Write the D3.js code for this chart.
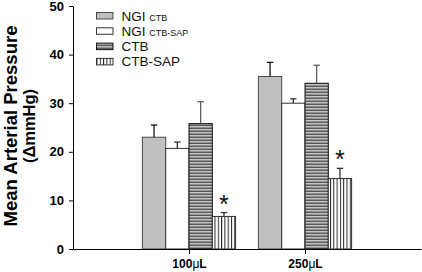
<!DOCTYPE html>
<html lang="en">
<head>
<meta charset="UTF-8">
<title>Mean Arterial Pressure</title>
<style>
  body { margin: 0; background: #fff; }
  svg { display: block; font-family: "Liberation Sans", Arial, sans-serif; }
</style>
</head>
<body>
<script src="https://cdn.jsdelivr.net/npm/d3@7"></script>
<script>
    const width = 422, height = 272;
    const margin = {top: 6, right: 1, bottom: 23, left: 73};

    const doses = ["100", "250"];
    const series = ["NGI CTB", "NGI CTB-SAP", "CTB", "CTB-SAP"];
    const means = [
        [23.0, 20.7, 25.8, 6.7],
        [35.5, 30.0, 34.1, 14.5]
    ];
    const errors = [
        [2.5, 1.3, 4.5, 0.8],
        [2.9, 0.9, 3.7, 2.1]
    ];
    const significant = [
        [false, false, false, true],
        [false, false, false, true]
    ];
    const yTicks = [0, 10, 20, 30, 40, 50];

    const svg = d3.select("body").append("svg")
        .attr("width", width)
        .attr("height", height);

    const defs = svg.append("defs");
    // horizontal stripes for CTB
    const hp = defs.append("pattern").attr("id", "hstripe")
        .attr("patternUnits", "userSpaceOnUse").attr("width", 4).attr("height", 3);
    hp.append("rect").attr("width", 4).attr("height", 3).attr("fill", "#c4c4c4");
    hp.append("rect").attr("y", 1.5).attr("width", 4).attr("height", 1.5).attr("fill", "#5a5a5a");
    // vertical stripes for CTB-SAP
    const vp = defs.append("pattern").attr("id", "vstripe")
        .attr("patternUnits", "userSpaceOnUse").attr("width", 3.3).attr("height", 4);
    vp.append("rect").attr("width", 3.3).attr("height", 4).attr("fill", "#fff");
    vp.append("rect").attr("x", 0).attr("width", 1).attr("height", 4).attr("fill", "#222");

    const fills = ["#c0c0c0", "#ffffff", "url(#hstripe)", "url(#vstripe)"];
    const strokes = ["#4a4a4a", "#333", "#111", "#333"];
    const errColor = ["#111", "#333", "#606060", "#333"];

    const x = d3.scaleLinear().domain([0, 3]).range([margin.left, width - margin.right]);
    const barW = 23.3;
    const y = d3.scaleLinear().domain([0, 50]).range([height - margin.bottom, margin.top]);

    const data = [];
    doses.forEach((d, i) => series.forEach((s, j) => data.push({
        dose: i, k: j, v: means[i][j], e: errors[i][j], sig: significant[i][j]
    })));
    const bx = d => x(d.dose + 1) + (d.k - 2) * barW;

    svg.append("g").selectAll("rect").data(data).join("rect")
        .attr("x", bx)
        .attr("y", d => y(d.v))
        .attr("width", barW)
        .attr("height", d => y(0) - y(d.v))
        .attr("fill", d => fills[d.k])
        .attr("stroke", d => strokes[d.k])
        .attr("stroke-width", 1);

    const eb = svg.append("g").selectAll("g").data(data).join("g")
        .attr("stroke", d => errColor[d.k]).attr("stroke-width", 1.3);
    eb.append("line")
        .attr("x1", d => bx(d) + barW / 2).attr("x2", d => bx(d) + barW / 2)
        .attr("y1", d => y(d.v)).attr("y2", d => y(d.v + d.e));
    eb.append("line")
        .attr("x1", d => bx(d) + barW / 2 - 3.2).attr("x2", d => bx(d) + barW / 2 + 3.2)
        .attr("y1", d => y(d.v + d.e)).attr("y2", d => y(d.v + d.e));

    svg.append("g").selectAll("text").data(data.filter(d => d.sig)).join("text")
        .attr("x", d => bx(d) + barW / 2)
        .attr("y", d => y(d.v + d.e) + 0)
        .attr("text-anchor", "middle")
        .attr("font-size", 25)
        .attr("fill", "#111")
        .text("*");

    // y axis
    svg.append("g")
        .attr("transform", `translate(${margin.left},0)`)
        .call(d3.axisLeft(y).tickValues(yTicks).tickSize(4).tickSizeOuter(0).tickPadding(5))
        .call(g => g.select(".domain").attr("stroke", "#000"))
        .call(g => g.selectAll("text").attr("font-size", 13).attr("font-weight", "bold")
            .attr("font-family", "Liberation Sans, Arial, sans-serif").attr("fill", "#000"));

    // x axis
    svg.append("g")
        .attr("transform", `translate(0,${y(0)})`)
        .call(d3.axisBottom(x).tickValues([1, 2]).tickSize(5).tickSizeOuter(0).tickFormat(""))
        .call(g => g.select(".domain").attr("stroke", "#000"))
        .call(g => g.selectAll(".tick").each(function (d) {
            const t = d3.select(this).append("text")
                .attr("y", 19).attr("fill", "#000").attr("text-anchor", "middle")
                .attr("font-size", 12).attr("font-weight", "bold")
                .attr("font-family", "Liberation Sans, Arial, sans-serif");
            t.append("tspan").text(doses[d - 1]);
            t.append("tspan").attr("font-weight", "normal").text("\u03bc");
            t.append("tspan").text("L");
        }));

    // y title
    const yt = svg.append("g").attr("transform", "translate(0,126) rotate(-90)")
        .attr("text-anchor", "middle").attr("font-weight", "bold").attr("fill", "#000");
    yt.append("text").attr("y", 16.5).attr("font-size", 18.5).text("Mean Arterial Pressure");
    yt.append("text").attr("y", 35).attr("font-size", 16.5).text("(\u0394mmHg)");

    // legend
    const leg = svg.append("g").selectAll("g").data(series).join("g")
        .attr("transform", (d, i) => `translate(96.5,${12.5 + i * 15.3})`);
    leg.append("rect").attr("width", 16.5).attr("height", 6.5)
        .attr("fill", (d, i) => fills[i]).attr("stroke", (d, i) => strokes[i]);
    leg.append("text").attr("x", 25).attr("y", 8).attr("font-size", 13.5).attr("fill", "#111")
        .each(function (d) {
            const t = d3.select(this);
            if (d.startsWith("NGI ")) {
                t.append("tspan").text("NGI ");
                t.append("tspan").attr("font-size", 9).text(d.slice(4));
            } else {
                t.text(d);
            }
        });
</script>
</body>
</html>
